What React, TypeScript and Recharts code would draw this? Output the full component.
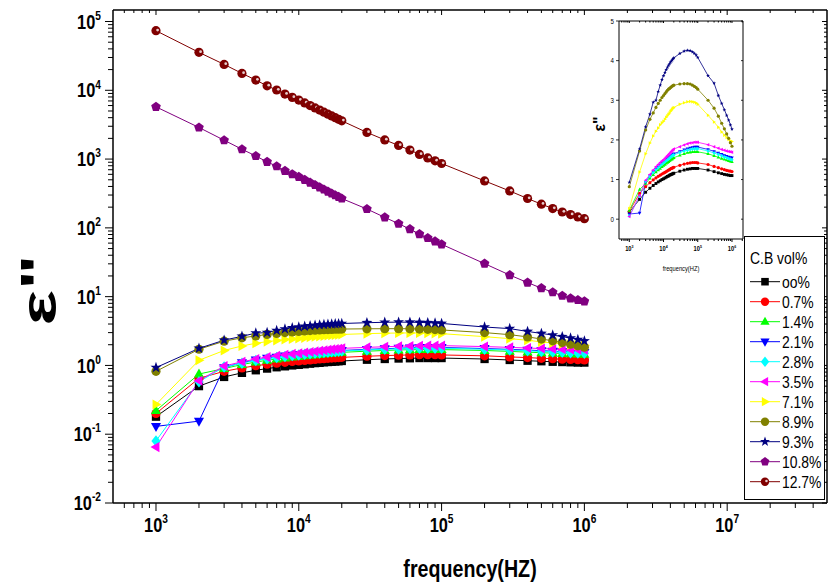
import React from "react";
import { Line, LineChart, XAxis, YAxis } from "recharts";

// measurement frequencies (Hz)
const FREQ = [
  1000, 2000, 3000, 4000, 5000, 6000, 7000, 8000, 9000,
  10000, 11000, 12000, 13000, 14000, 15000, 16000, 17000, 18000, 19000, 20000,
  30000, 40000, 50000, 60000, 70000, 80000, 90000, 100000,
  200000, 300000, 400000, 500000, 600000, 700000, 800000, 900000, 1000000,
];

// dielectric loss e'' for each C.B vol%
const CB00 = [0.18, 0.5, 0.68, 0.78, 0.85, 0.9, 0.94, 0.97, 1.0, 1.02, 1.04, 1.06, 1.08, 1.09, 1.11, 1.12, 1.13, 1.14, 1.15, 1.16, 1.21, 1.24, 1.26, 1.27, 1.28, 1.28, 1.28, 1.28, 1.24, 1.2, 1.17, 1.15, 1.13, 1.12, 1.11, 1.1, 1.1];
const CB07 = [0.2, 0.65, 0.82, 0.92, 0.99, 1.04, 1.08, 1.11, 1.14, 1.16, 1.18, 1.2, 1.22, 1.24, 1.25, 1.27, 1.28, 1.29, 1.3, 1.31, 1.36, 1.39, 1.41, 1.42, 1.43, 1.43, 1.43, 1.42, 1.38, 1.33, 1.3, 1.27, 1.25, 1.23, 1.22, 1.21, 1.2];
const CB14 = [0.22, 0.75, 0.9, 1.03, 1.12, 1.19, 1.24, 1.28, 1.32, 1.35, 1.38, 1.41, 1.43, 1.45, 1.47, 1.49, 1.51, 1.52, 1.54, 1.55, 1.61, 1.65, 1.68, 1.69, 1.7, 1.7, 1.7, 1.7, 1.65, 1.6, 1.56, 1.53, 1.51, 1.49, 1.47, 1.46, 1.45];
const CB21 = [0.13, 0.155, 0.93, 1.1, 1.2, 1.27, 1.32, 1.37, 1.41, 1.44, 1.47, 1.5, 1.52, 1.55, 1.57, 1.59, 1.61, 1.62, 1.64, 1.65, 1.71, 1.75, 1.78, 1.8, 1.81, 1.82, 1.82, 1.82, 1.76, 1.71, 1.67, 1.64, 1.61, 1.59, 1.57, 1.56, 1.55];
const CB28 = [0.08, 0.58, 0.95, 1.08, 1.18, 1.25, 1.3, 1.35, 1.39, 1.42, 1.45, 1.48, 1.5, 1.52, 1.54, 1.56, 1.58, 1.6, 1.61, 1.62, 1.68, 1.72, 1.74, 1.76, 1.77, 1.78, 1.78, 1.78, 1.72, 1.67, 1.63, 1.6, 1.57, 1.55, 1.53, 1.51, 1.5];
const CB35 = [0.065, 0.6, 0.98, 1.13, 1.24, 1.32, 1.38, 1.43, 1.47, 1.5, 1.54, 1.57, 1.6, 1.63, 1.66, 1.69, 1.71, 1.73, 1.75, 1.77, 1.83, 1.87, 1.9, 1.92, 1.93, 1.94, 1.94, 1.94, 1.88, 1.83, 1.79, 1.76, 1.74, 1.72, 1.71, 1.7, 1.69];
const CB71 = [0.27, 1.19, 1.65, 1.92, 2.1, 2.22, 2.3, 2.38, 2.43, 2.47, 2.52, 2.57, 2.61, 2.65, 2.68, 2.72, 2.75, 2.78, 2.8, 2.82, 2.9, 2.94, 2.96, 2.97, 2.96, 2.95, 2.93, 2.9, 2.62, 2.45, 2.32, 2.2, 2.12, 2.06, 2.01, 1.98, 1.96];
const CB89 = [0.82, 1.72, 2.25, 2.52, 2.68, 2.82, 2.92, 3.0, 3.07, 3.12, 3.17, 3.21, 3.25, 3.28, 3.3, 3.32, 3.34, 3.36, 3.37, 3.38, 3.41, 3.42, 3.42, 3.41, 3.38, 3.35, 3.32, 3.28, 3.0, 2.8, 2.6, 2.42, 2.28, 2.15, 2.04, 1.93, 1.84];
const CB93 = [0.93, 1.77, 2.33, 2.65, 2.95, 3.0, 3.22, 3.38, 3.52, 3.62, 3.7, 3.77, 3.83, 3.88, 3.92, 3.96, 3.99, 4.02, 4.05, 4.07, 4.18, 4.24, 4.26, 4.25, 4.22, 4.18, 4.14, 4.08, 3.62, 3.43, 3.12, 2.92, 2.76, 2.62, 2.5, 2.38, 2.27];
const CB108 = [5750, 2880, 1880, 1390, 1110, 910, 788, 673, 603, 551, 500, 455, 420, 388, 361, 337, 316, 298, 282, 267, 188, 142, 115, 95.8, 81.3, 71.3, 63.6, 57.7, 30.2, 20.6, 16.0, 13.3, 11.6, 10.3, 9.45, 8.93, 8.55];
const CB127 = [73500, 35600, 23800, 17600, 14100, 11600, 10100, 8800, 7890, 7200, 6550, 6000, 5540, 5150, 4800, 4500, 4240, 4000, 3790, 3600, 2440, 1900, 1580, 1350, 1170, 1040, 942, 863, 482, 344, 267, 221, 191, 170, 156, 144, 136];

const SERIES = [
  { key: "s00", name: "oo%", color: "#000000", shape: "square", values: CB00 },
  { key: "s07", name: "0.7%", color: "#ff0000", shape: "circle", values: CB07 },
  { key: "s14", name: "1.4%", color: "#00ff00", shape: "up", values: CB14 },
  { key: "s21", name: "2.1%", color: "#0000ff", shape: "down", values: CB21 },
  { key: "s28", name: "2.8%", color: "#00ffff", shape: "diamond", values: CB28 },
  { key: "s35", name: "3.5%", color: "#ff00ff", shape: "left", values: CB35 },
  { key: "s71", name: "7.1%", color: "#ffff00", shape: "right", values: CB71 },
  { key: "s89", name: "8.9%", color: "#808000", shape: "circle", values: CB89 },
  { key: "s93", name: "9.3%", color: "#000080", shape: "star", values: CB93 },
  { key: "s108", name: "10.8%", color: "#800080", shape: "pentagon", values: CB108 },
  { key: "s127", name: "12.7%", color: "#800000", shape: "ball", values: CB127 },
];
const INSET_KEYS = ["s00", "s07", "s14", "s21", "s28", "s35", "s71", "s89", "s93"];

const rows = FREQ.map((f, i) => {
  const row: Record<string, number> = { f };
  SERIES.forEach((s) => (row[s.key] = s.values[i]));
  return row;
});

const FONT = "'Liberation Sans', Arial, sans-serif";
const NARROW = 0.82; // the original uses a condensed Arial

// log ticks: every m*10^e inside (lo, hi)
function logTicks(lo: number, hi: number, e0: number, e1: number, edges = false) {
  const out: number[] = [];
  for (let e = e0; e <= e1; e++) {
    for (let m = 1; m <= 9; m++) {
      const v = Number((m * Math.pow(10, e)).toPrecision(6));
      if ((edges ? v >= lo : v > lo) && v < hi) out.push(v);
    }
  }
  return out;
}
const isMajor = (v: number) => Math.abs(Math.log10(v) - Math.round(Math.log10(v))) < 1e-6;

const MAIN_X = [500, 5e7];
const MAIN_Y = [0.01, 147000];
const MAIN_XTICKS = logTicks(500, 5e7, 2, 7);
const MAIN_YTICKS = logTicks(0.01, 147000, -2, 5, true);
const INSET_X = [500, 2.1e6];
const INSET_Y = [-0.5, 5];
const INSET_XTICKS = logTicks(500, 2.1e6, 2, 6);
const INSET_YTICKS = [0, 1, 2, 3, 4, 5];

function polyPoints(shape: string, cx: number, cy: number, r: number) {
  let pts: number[][] = [];
  if (shape === "up") pts = [[0, -1.2], [1.1, 0.75], [-1.1, 0.75]];
  if (shape === "down") pts = [[0, 1.2], [1.1, -0.75], [-1.1, -0.75]];
  if (shape === "left") pts = [[-1.2, 0], [0.75, -1.1], [0.75, 1.1]];
  if (shape === "right") pts = [[1.2, 0], [-0.75, -1.1], [-0.75, 1.1]];
  if (shape === "diamond") pts = [[0, -1.25], [1, 0], [0, 1.25], [-1, 0]];
  if (shape === "pentagon") {
    for (let i = 0; i < 5; i++) {
      const a = ((-90 + 72 * i) * Math.PI) / 180;
      pts.push([Math.cos(a) * 1.1, Math.sin(a) * 1.1]);
    }
  }
  if (shape === "star") {
    for (let i = 0; i < 10; i++) {
      const a = ((-90 + 36 * i) * Math.PI) / 180;
      const k = i % 2 ? 0.5 : 1.25;
      pts.push([Math.cos(a) * k, Math.sin(a) * k]);
    }
  }
  return pts.map(([a, b]) => `${cx + a * r},${cy + b * r}`).join(" ");
}

const Marker = ({ shape, cx, cy, r, fill }: { shape: string; cx: number; cy: number; r: number; fill: string }) => {
  if (cx == null || cy == null || isNaN(cx) || isNaN(cy)) return null;
  if (shape === "square") return <rect x={cx - r * 0.9} y={cy - r * 0.9} width={r * 1.8} height={r * 1.8} fill={fill} />;
  if (shape === "circle") return <circle cx={cx} cy={cy} r={r} fill={fill} />;
  if (shape === "ball")
    return (
      <g>
        <circle cx={cx} cy={cy} r={r} fill={fill} />
        <circle cx={cx + r * 0.35} cy={cy - r * 0.15} r={r * 0.3} fill="#fff" opacity={0.8} />
      </g>
    );
  return <polygon points={polyPoints(shape, cx, cy, r)} fill={fill} />;
};

// condensed text, scaled around its anchor point
const NText = ({ x, y, size, anchor = "start", bold = false, children }: any) => (
  <text transform={`translate(${x},${y}) scale(${NARROW},1)`} textAnchor={anchor} fontFamily={FONT}
    fontWeight={bold ? "bold" : "normal"} fontSize={size} fill="#000">
    {children}
  </text>
);

const Pow10 = ({ x, y, v, size, anchor }: { x: number; y: number; v: number; size: number; anchor: string }) => (
  <NText x={x} y={y} size={size} anchor={anchor} bold>
    10
    <tspan dy={-size * 0.45} fontSize={size * 0.62}>
      {Math.round(Math.log10(v))}
    </tspan>
  </NText>
);

// horizontal axis ticks, drawn downward from the axis line
const hTick = (major: number, minor: number, size: number, gap: number, labels: boolean) => (p: any) => {
  const { x, y, payload } = p;
  const big = isMajor(payload.value);
  return (
    <g>
      <line x1={x} x2={x} y1={y} y2={y + (big ? major : minor)} stroke="#000" strokeWidth={1} />
      {big && labels && <Pow10 x={x} y={y + gap} v={payload.value} size={size} anchor="middle" />}
    </g>
  );
};

// vertical axis ticks, drawn leftward from the axis line
const vTick = (major: number, minor: number, size: number, gap: number, labels: boolean) => (p: any) => {
  const { x, y, payload } = p;
  const big = isMajor(payload.value);
  return (
    <g>
      <line x1={x} x2={x - (big ? major : minor)} y1={y} y2={y} stroke="#000" strokeWidth={1} />
      {big && labels && <Pow10 x={x - gap} y={y + size * 0.36} v={payload.value} size={size} anchor="end" />}
    </g>
  );
};

const linTick = (len: number, labels: boolean) => (p: any) => {
  const { x, y, payload } = p;
  return (
    <g>
      <line x1={x} x2={x - len} y1={y} y2={y} stroke="#000" strokeWidth={0.8} />
      {labels && (
        <NText x={x - 5} y={y + 2.6} size={7.5} anchor="end">
          {payload.value}
        </NText>
      )}
    </g>
  );
};

const axisBase = { type: "number" as const, interval: 0 as const, tickSize: 0, tickMargin: 0, allowDataOverflow: true };

const App = () => {
  return (
    <div style={{ position: "absolute", left: 0, top: 0, width: 832, height: 587, background: "#fff" }}>
      <LineChart width={832} height={587} data={rows} margin={{ top: 9, right: 4, bottom: 44, left: 53 }}>
        <XAxis xAxisId="b" dataKey="f" {...axisBase} scale="log" domain={MAIN_X} ticks={MAIN_XTICKS} height={40}
          tick={hTick(8, 5, 20, 29, true)} axisLine={{ stroke: "#000", strokeWidth: 1.5 }} />
        <XAxis xAxisId="t" dataKey="f" orientation="top" {...axisBase} scale="log" domain={MAIN_X} ticks={MAIN_XTICKS} height={1}
          tick={hTick(5, 3, 0, 0, false)} axisLine={{ stroke: "#000", strokeWidth: 1.5 }} />
        <YAxis yAxisId="l" {...axisBase} scale="log" domain={MAIN_Y} ticks={MAIN_YTICKS} width={60}
          tick={vTick(8, 5, 20, 12, true)} axisLine={{ stroke: "#000", strokeWidth: 1.5 }} />
        <YAxis yAxisId="r" orientation="right" {...axisBase} scale="log" domain={MAIN_Y} ticks={MAIN_YTICKS} width={1}
          tick={vTick(5, 3, 0, 0, false)} axisLine={{ stroke: "#000", strokeWidth: 1.5 }} />
        {SERIES.map((s) => (
          <Line key={s.key} xAxisId="b" yAxisId="l" dataKey={s.key} stroke={s.color} strokeWidth={1}
            isAnimationActive={false} activeDot={false}
            dot={(p: any) => <Marker key={`${s.key}-${p.index}`} shape={s.shape} cx={p.cx} cy={p.cy} r={4.6} fill={s.color} />} />
        ))}
      </LineChart>

      {/* inset: linear scale */}
      <div style={{ position: "absolute", left: 590, top: 0 }}>
        <LineChart width={160} height={290} data={rows} margin={{ top: 20, right: 6, bottom: 50, left: 28 }}>
          <XAxis xAxisId="b" dataKey="f" {...axisBase} scale="log" domain={INSET_X} ticks={INSET_XTICKS} height={1}
            tick={hTick(3, 2, 7, 12, true)} axisLine={{ stroke: "#000", strokeWidth: 1 }} />
          <XAxis xAxisId="t" dataKey="f" orientation="top" {...axisBase} scale="log" domain={INSET_X} ticks={INSET_XTICKS} height={1}
            tick={hTick(2, 1.5, 0, 0, false)} axisLine={{ stroke: "#000", strokeWidth: 1 }} />
          <YAxis yAxisId="l" {...axisBase} domain={INSET_Y} ticks={INSET_YTICKS} width={1}
            tick={linTick(3, true)} axisLine={{ stroke: "#000", strokeWidth: 1 }} />
          <YAxis yAxisId="r" orientation="right" {...axisBase} domain={INSET_Y} ticks={INSET_YTICKS} width={1}
            tick={linTick(2, false)} axisLine={{ stroke: "#000", strokeWidth: 1 }} />
          {SERIES.filter((s) => INSET_KEYS.includes(s.key)).map((s) => (
            <Line key={s.key} xAxisId="b" yAxisId="l" dataKey={s.key} stroke={s.color} strokeWidth={0.8}
              isAnimationActive={false} activeDot={false}
              dot={(p: any) => <Marker key={`${s.key}-${p.index}`} shape={s.shape} cx={p.cx} cy={p.cy} r={1.6} fill={s.color} />} />
          ))}
        </LineChart>
      </div>

      {/* axis titles */}
      <svg width={832} height={587} style={{ position: "absolute", left: 0, top: 0, pointerEvents: "none" }}>
        <NText x={470} y={577} size={24} anchor="middle" bold>frequency(HZ)</NText>
        <text transform="translate(56,290) rotate(-90) scale(1.5,1)" textAnchor="middle" fontFamily={FONT} fontWeight="bold" fontSize={50}>ε"</text>
        <NText x={681} y={271} size={7}>
          <tspan textAnchor="middle">frequency(HZ)</tspan>
        </NText>
        <text transform="translate(605,124) rotate(-90)" textAnchor="middle" fontFamily={FONT} fontWeight="bold" fontSize={16}>ε"</text>
      </svg>

      {/* legend */}
      <div style={{ position: "absolute", left: 744, top: 236, width: 81, height: 264, boxSizing: "border-box", border: "1px solid #000", background: "#fff" }}>
        <svg width={79} height={262}>
          <NText x={5} y={27} size={17}>C.B vol%</NText>
          {SERIES.map((s, i) => {
            const cy = 44.7 + i * 20;
            return (
              <g key={s.key}>
                <line x1={5} x2={35} y1={cy} y2={cy} stroke={s.color} strokeWidth={1} />
                <Marker shape={s.shape} cx={20} cy={cy} r={4.2} fill={s.color} />
                <NText x={37} y={cy + 6} size={17}>{s.name}</NText>
              </g>
            );
          })}
        </svg>
      </div>
    </div>
  );
};

export default App;
